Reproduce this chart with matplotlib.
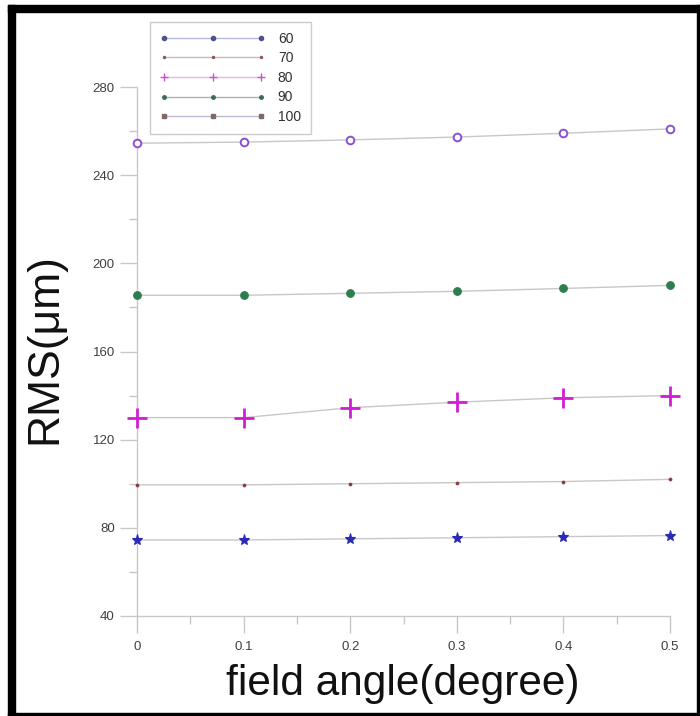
import numpy as np
import matplotlib
matplotlib.use("Agg")
import matplotlib.pyplot as plt
from matplotlib.lines import Line2D
from matplotlib.patches import Rectangle

plt.rcParams['font.family'] = ['Liberation Sans', 'DejaVu Sans']

# dados
angulos = [0, 0.1, 0.2, 0.3, 0.4, 0.5]
rotulos = ["60", "70", "80", "90", "100"]
rms_60 = [74.5, 74.5, 75.0, 75.5, 76.0, 76.5]
rms_70 = [99.5, 99.5, 100.0, 100.5, 101.0, 102.0]
rms_80 = [130.0, 130.0, 134.5, 137.0, 139.0, 140.0]
rms_90 = [185.5, 185.5, 186.4, 187.3, 188.6, 190.0]
rms_100 = [254.5, 255.0, 256.0, 257.3, 259.0, 261.0]
series = [rms_60, rms_70, rms_80, rms_90, rms_100]
yticks = [40, 80, 120, 160, 200, 240, 280]
xticks = [0, 0.1, 0.2, 0.3, 0.4, 0.5]

# estilo de cada curva
estilos = [
    dict(marker='*', color='#2a2ab4', ms=8, mfc='#2a2ab4', mew=0.8),
    dict(marker='o', color='#8b3a3a', ms=2.2, mfc='#8b3a3a', mew=0.5),
    dict(marker='+', color='#d21ed2', ms=14, mfc='#d21ed2', mew=2.0),
    dict(marker='o', color='#2e7d4f', ms=5.5, mfc='#2e7d4f', mew=0.8),
    dict(marker='o', color='#8a50d2', ms=5.5, mfc='white', mew=1.4),
]
# a legenda usa marcadores menores/diferentes
leg_estilos = [
    dict(marker='o', color='#50508c', ms=3, line='#b8b8e0'),
    dict(marker='o', color='#8b5a5a', ms=1.5, line='#c8b8b8'),
    dict(marker='+', color='#d050d0', ms=6, line='#e8b8e8'),
    dict(marker='o', color='#3a6a50', ms=2.5, line='#b0b0b0'),
    dict(marker='s', color='#806868', ms=2.5, line='#c0b8d0'),
]

fig = plt.figure(figsize=(7, 7.16), dpi=100)
ax = fig.add_axes([137/700, 1-616/716, (670-137)/700, (616-87)/716])

for ys, st in zip(series, estilos):
    ax.plot(angulos, ys, '-', color='#c8c8c8', lw=1.0, zorder=1)
    ax.plot(angulos, ys, ls='none', marker=st['marker'], ms=st['ms'],
            mec=st['color'], mfc=st['mfc'], mew=st['mew'], zorder=3, clip_on=False)

ax.set_xlim(0, 0.5)
ax.set_ylim(40, 280)
ax.set_xticks(xticks)
ax.set_xticklabels(["0", "0.1", "0.2", "0.3", "0.4", "0.5"])
ax.set_yticks(yticks)
ax.set_xticks(np.arange(0.05, 0.5, 0.1), minor=True)
ax.set_yticks(np.arange(60, 280, 40), minor=True)

for s in ['top', 'right']:
    ax.spines[s].set_visible(False)
for s in ['left', 'bottom']:
    ax.spines[s].set_color('#c8c8c8')
    ax.spines[s].set_linewidth(1.0)

ax.tick_params(which='major', direction='out', length=12, width=1.0,
               color='#c8c8c8', labelsize=9.5, labelcolor='#404040', pad=4)
ax.tick_params(which='minor', direction='out', length=6, width=1.0, color='#c8c8c8')
ax.tick_params(axis='x', which='major', pad=6)

fig.text(45/700, 1-349/716, "RMS(μm)", rotation=90, fontsize=32,
         ha='center', va='center', color='#111111')
fig.text(403/700, 1-684/716, "field angle(degree)", fontsize=30.5,
         ha='center', va='center', color='#111111')

handles = [Line2D([0], [0], color=st['line'], lw=1.0, marker=st['marker'],
                  ms=st['ms'], mec=st['color'], mfc=st['color'], mew=1.0)
           for st in leg_estilos]
leg = fig.legend(handles, rotulos, loc='upper left',
                 bbox_to_anchor=(150/700, 1-22/716), borderaxespad=0,
                 numpoints=3, handlelength=7.6, fontsize=10, frameon=True,
                 fancybox=False, edgecolor='#c0c0c0', labelspacing=0.4,
                 handletextpad=0.9, borderpad=0.7, labelcolor='#303030')
leg.get_frame().set_linewidth(1.0)

# moldura preta
fig.patches.append(Rectangle((8/700, 0), 7/700, 1-5/716, transform=fig.transFigure,
                             color='black', zorder=10))
fig.patches.append(Rectangle((8/700, 1-12/716), 1-8/700, 7/716, transform=fig.transFigure,
                             color='black', zorder=10))
fig.patches.append(Rectangle((8/700, 0), 1-8/700, 3/716, transform=fig.transFigure,
                             color='black', zorder=10))
fig.patches.append(Rectangle((1-3/700, 0), 3/700, 1-5/716, transform=fig.transFigure,
                             color='black', zorder=10))

fig.savefig("out.png", dpi=100)
